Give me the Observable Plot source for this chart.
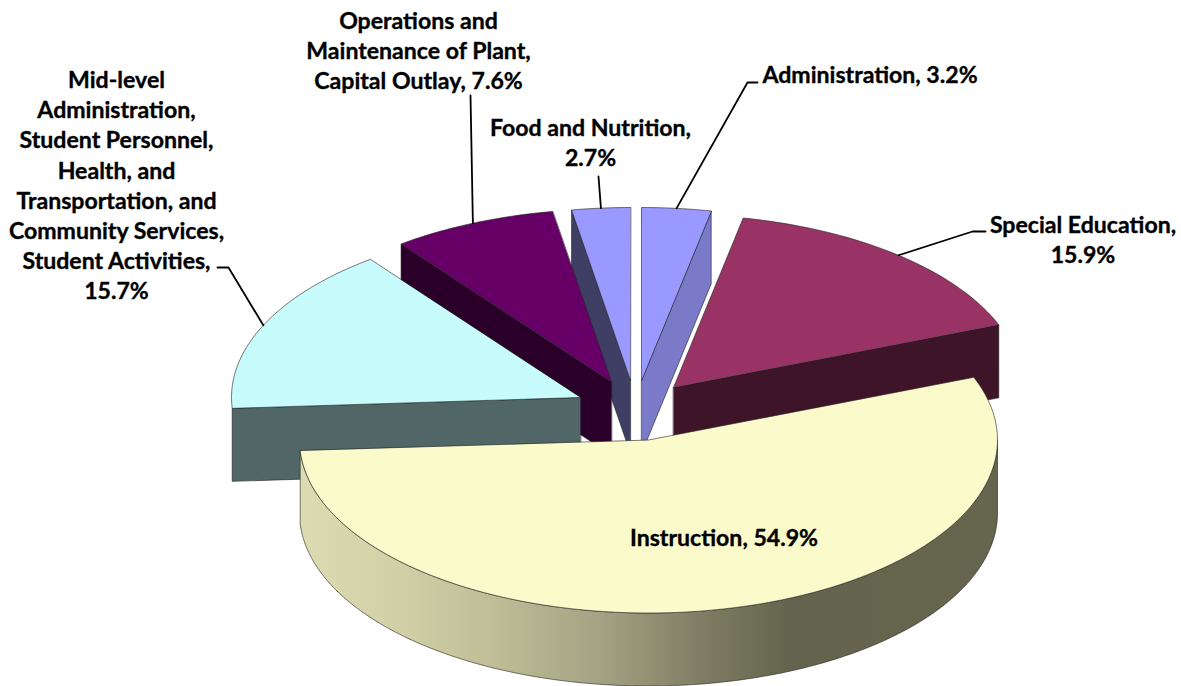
<!DOCTYPE html>
<html>
<head>
<meta charset="utf-8">
<script src="https://cdn.jsdelivr.net/npm/d3@7"></script>
<script src="https://cdn.jsdelivr.net/npm/@observablehq/plot@0.6"></script>
<style>
html,body{margin:0;padding:0;background:#fff;overflow:hidden}
svg{display:block}
</style>
</head>
<body>
<div id="chart"></div>
<script>
// Data
const categories = ["Administration","Special Education","Instruction","Mid-level","Operations","Food and Nutrition"];
const shares = [3.2,15.9,54.9,15.7,7.6,2.7];
const labelTexts = [
  "Administration, 3.2%",
  "Special Education,\n15.9%",
  "Instruction, 54.9%",
  "Mid-level\nAdministration,\nStudent Personnel,\nHealth, and\nTransportation, and\nCommunity Services,\nStudent Activities,\n15.7%",
  "Operations and\nMaintenance of Plant,\nCapital Outlay, 7.6%",
  "Food and Nutrition,\n2.7%"
];
const topColors  = ["#9999ff","#993366","#fbfaca","#c8fbfb","#660066","#9999ff"];
const wallColors = ["#7a7ac8","#3e1428","url(#instructionWall)","#516666","#2a002a","#3f3f66"];

// Layout of the exploded 3D pie
const W = 1181, H = 686;
const rx = 349, ry = 173, depth = 73;
const apexX = [641,673,648,580,611,630];
const apexY = [380,387,439.5,397,381.5,380];
const labelX = [869.5,1082.5,723.5,116,418,590];
const labelY = [73,238,535.5,183.5,48.5,141];
const elbows = [[[747,82],[757,82]],[[972,231],[985,231]],[],[[228,267],[217,267]],[[470,95]],[[598,176]]];
const paintOrder = [5,0,4,1,3,2];
const wallGradient = [[300,"#dcdcb2"],[400,"#d0cfa6"],[500,"#bdbc95"],[600,"#a3a283"],[700,"#7f7e64"],[790,"#64644e"],[997,"#66664f"]];

// Angles clockwise from 12 o'clock, from the shares
const total = d3.sum(shares);
const ends = d3.cumsum(shares).map(v => v / total * 360);
const starts = ends.map((_, i) => i ? ends[i - 1] : 0);
const pt = (i, deg, dz = 0) => {
  const a = deg * Math.PI / 180;
  return {x: apexX[i] + rx * Math.sin(a), y: apexY[i] - ry * Math.cos(a) + dz};
};
const apex = (i, dz = 0) => ({x: apexX[i], y: apexY[i] + dz});
const arc = (i, a0, a1, dz = 0) => {
  const n = Math.max(2, Math.ceil(Math.abs(a1 - a0)));
  return d3.range(n + 1).map(k => pt(i, a0 + (a1 - a0) * k / n, dz));
};
const topFace = i => [apex(i), ...arc(i, starts[i], ends[i])];
const wallFace = i => {
  if (i === 2) return [...arc(i, 90, ends[i]), ...arc(i, ends[i], 90, depth)];
  const a = (i === 0 || i === 1) ? ends[i] : starts[i];
  return [apex(i), pt(i, a), pt(i, a, depth), apex(i, depth)];
};
const face = (pts, fill) => Plot.line(pts, {
  x: "x", y: "y", fill, stroke: "#222", strokeWidth: 0.8, strokeOpacity: 0.75,
  curve: "linear-closed", strokeLinejoin: "round"
});

const defsMark = (_, {x}) => {
  const defs = d3.create("svg:defs");
  const g = defs.append("linearGradient").attr("id", "instructionWall")
    .attr("gradientUnits", "userSpaceOnUse")
    .attr("x1", x(300)).attr("x2", x(997)).attr("y1", 0).attr("y2", 0);
  wallGradient.forEach(([px, c]) =>
    g.append("stop").attr("offset", (px - 300) / 697).attr("stop-color", c));
  return defs.node();
};

// Leader lines run from the middle of each slice's arc to the label
const leaders = categories.map((_, i) => [pt(i, (starts[i] + ends[i]) / 2), ...elbows[i].map(([x, y]) => ({x, y}))]);

const labels = labelTexts.map((text, i) => ({text, x: labelX[i], y: labelY[i]}));

const marks = [defsMark];
for (const i of paintOrder) marks.push(face(wallFace(i), wallColors[i]), face(topFace(i), topColors[i]));
leaders.forEach((l, i) => { if (elbows[i].length) marks.push(Plot.line(l, {x: "x", y: "y", stroke: "#000", strokeWidth: 1.8})); });
marks.push(Plot.text(labels, {
  x: "x", y: "y", text: "text", fontFamily: "Lato", fontWeight: 700, fontSize: 23.1,
  lineHeight: 1.305, textAnchor: "middle", lineAnchor: "middle", fill: "#000",
  stroke: "#000", strokeWidth: 0.35
}));

const chart = Plot.plot({
  width: W, height: H, margin: 0,
  x: {domain: [0, W], range: [0, W], axis: null},
  y: {domain: [0, H], range: [0, H], axis: null},
  style: {background: "#fff"},
  marks
});
document.getElementById("chart").append(chart);
</script>
</body>
</html>
